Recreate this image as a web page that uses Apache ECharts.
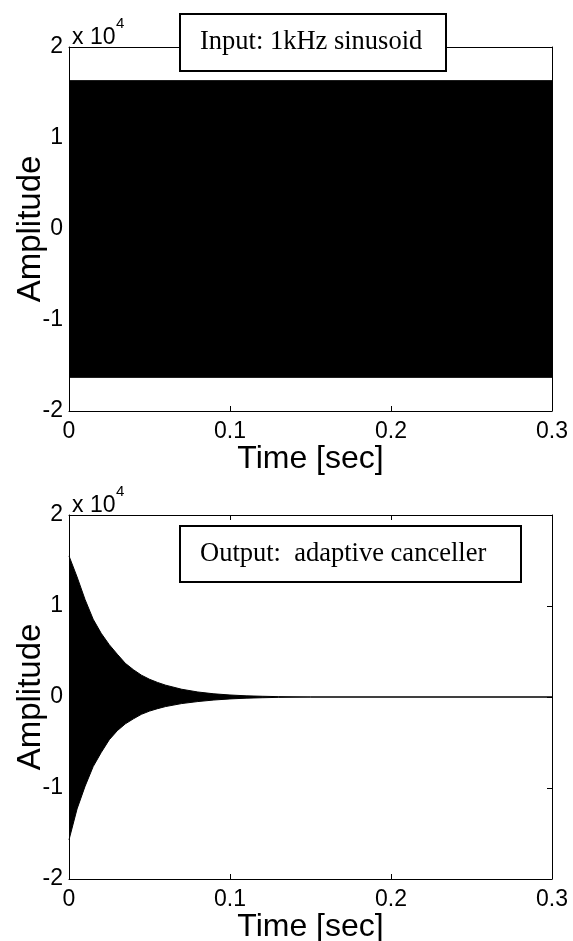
<!DOCTYPE html>
<html>
<head>
<meta charset="utf-8">
<script src="https://cdn.jsdelivr.net/npm/echarts@6/dist/echarts.min.js"></script>
<style>
html, body { margin: 0; padding: 0; background: #fff; }
#chart { width: 573px; height: 941px; }
</style>
</head>
<body>
<div id="chart"></div>
<script>
// input: 1 kHz tone, drawn as its envelope band (too dense to resolve per cycle)
var inTime = [0, 0.3];
var inUpper = [16300, 16300];
var inLower = [-16300, -16300];

// output of the canceller: envelope
var outTime = [0, 0.005, 0.01, 0.015, 0.02, 0.025, 0.03, 0.035, 0.04, 0.045, 0.05, 0.055, 0.06, 0.07, 0.08, 0.09, 0.1, 0.11, 0.12, 0.13, 0.15, 0.3];
var outUpper = [15500, 13200, 10700, 8550, 7000, 5750, 4700, 3700, 3000, 2400, 1950, 1600, 1300, 850, 550, 350, 220, 130, 80, 40, 0, 0];
var outLower = [-15700, -12300, -9800, -7650, -6100, -4700, -3700, -2950, -2400, -1900, -1550, -1280, -1050, -720, -500, -330, -210, -130, -80, -40, 0, 0];

var panelTitles = ['Input: 1kHz sinusoid', 'Output:  adaptive canceller'];
var xName = 'Time [sec]';
var yName = 'Amplitude';

var myChart = echarts.init(document.getElementById('chart'));
window.addEventListener('resize', function(){
	myChart.resize();
});

function pairs(t, v) {
	return t.map(function (x, i) { return [x, v[i]]; });
}

var sans = 'Liberation Sans';
var serif = 'Liberation Serif';
var black = '#000';

var grids = [
	{ left: 69, right: 21, top: 47, height: 364, outerBoundsMode: 'none' },
	{ left: 69, right: 21, top: 515, height: 364, outerBoundsMode: 'none' }
];

var xAxes = [], yAxes = [], series = [];
grids.forEach(function (g, i) {
	xAxes.push({
		gridIndex: i, type: 'value', position: 'bottom',
		min: 0, max: 0.3, interval: 0.1,
		name: xName, nameLocation: 'middle', nameGap: 32, nameMoveOverlap: false,
		nameTextStyle: { fontFamily: sans, fontSize: 32, color: black },
		axisLine: { onZero: false, lineStyle: { color: black, width: 1 } },
		axisTick: { inside: true, length: 5, lineStyle: { color: black } },
		axisLabel: { margin: 9, fontFamily: sans, fontSize: 23, color: black },
		splitLine: { show: false }
	});
	xAxes.push({
		gridIndex: i, type: 'value', position: 'top',
		min: 0, max: 0.3, interval: 0.1,
		axisLine: { onZero: false, lineStyle: { color: black, width: 1 } },
		axisTick: { inside: true, length: 5, lineStyle: { color: black } },
		axisLabel: { show: false },
		splitLine: { show: false }
	});
	yAxes.push({
		gridIndex: i, type: 'value', position: 'left',
		min: -20000, max: 20000, interval: 10000,
		name: yName, nameLocation: 'middle', nameGap: 22, nameMoveOverlap: false,
		nameTextStyle: { fontFamily: sans, fontSize: 33, color: black },
		axisLine: { show: true, onZero: false, lineStyle: { color: black, width: 1 } },
		axisTick: { show: true, inside: true, length: 5, lineStyle: { color: black } },
		axisLabel: {
			margin: 6, fontFamily: sans, fontSize: 23, color: black,
			formatter: function (v) { return String(v / 10000); }
		},
		splitLine: { show: false }
	});
	yAxes.push({
		gridIndex: i, type: 'value', position: 'right',
		min: -20000, max: 20000, interval: 10000,
		axisLine: { show: true, onZero: false, lineStyle: { color: black, width: 1 } },
		axisTick: { show: true, inside: true, length: 5, lineStyle: { color: black } },
		axisLabel: { show: false },
		splitLine: { show: false }
	});
});

// upper and lower envelopes, each filled to zero
var bands = [
	[pairs(inTime, inUpper), pairs(inTime, inLower)],
	[pairs(outTime, outUpper), pairs(outTime, outLower)]
];
bands.forEach(function (b, i) {
	b.forEach(function (d) {
		series.push({
			type: 'line',
			xAxisIndex: 2 * i, yAxisIndex: 2 * i,
			data: d,
			symbol: 'none',
			lineStyle: { color: black, width: 1 },
			areaStyle: { color: black, opacity: 1, origin: 'auto' },
			silent: true
		});
	});
});

var graphics = [];
var boxes = [
	{ x: 180, y: 14, w: 266, h: 57 },
	{ x: 180, y: 526, w: 341, h: 56 }
];
boxes.forEach(function (bx, i) {
	graphics.push({
		type: 'rect', z: 100,
		shape: { x: bx.x, y: bx.y, width: bx.w, height: bx.h },
		style: { fill: '#fff', stroke: black, lineWidth: 2 }
	});
	graphics.push({
		type: 'text', z: 101,
		x: bx.x + 20, y: bx.y + bx.h / 2,
		style: { text: panelTitles[i], font: '26.5px "' + serif + '"', fill: black, verticalAlign: 'middle' }
	});
});
// "x 10^4" exponent marks
grids.forEach(function (g) {
	graphics.push({
		type: 'text', z: 101, x: 72, y: g.top - 21,
		style: { text: 'x 10', font: '23px "' + sans + '"', fill: black }
	});
	graphics.push({
		type: 'text', z: 101, x: 116, y: g.top - 31,
		style: { text: '4', font: '15px "' + sans + '"', fill: black }
	});
});

myChart.setOption(option = {
	animation: false,
	backgroundColor: '#fff',
	grid: grids,
	xAxis: xAxes,
	yAxis: yAxes,
	series: series,
	graphic: graphics
});
</script>
</body>
</html>
